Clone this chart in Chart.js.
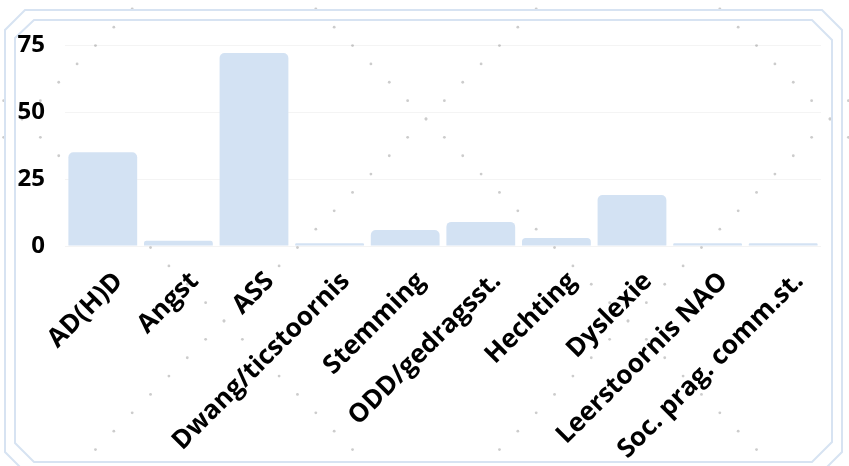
<!DOCTYPE html>
<html>
<head>
<meta charset="utf-8">
<script src="https://cdn.jsdelivr.net/npm/chart.js@4"></script>
<style>
  html, body { margin: 0; padding: 0; background: #ffffff; }
  #wrap { position: relative; width: 849px; height: 466px; overflow: hidden; }
  #bg, #frame { position: absolute; left: 0; top: 0; }
  #chart { position: absolute; left: 0; top: 0; }
</style>
</head>
<body>
<div id="wrap">
  <canvas id="bg" width="849" height="466"></canvas>
  <svg id="frame" width="849" height="466" xmlns="http://www.w3.org/2000/svg">
    <polygon points="25,10 822,10 842,30 842,452 820,474 27,474 5,452 5,30" fill="none" stroke="#d7e3f2" stroke-width="2"/>
    <polygon points="34,20 812,20 832,40 832,442 812,462 34,462 15,443 15,38" fill="none" stroke="#d7e3f2" stroke-width="2"/>
  </svg>
  <canvas id="chart" width="849" height="466"></canvas>
</div>
<script>
const categories = ["AD(H)D", "Angst", "ASS", "Dwang/ticstoornis", "Stemming", "ODD/gedragsst.", "Hechting", "Dyslexie", "Leerstoornis NAO", "Soc. prag. comm.st."];
const values = [35, 2, 72, 1, 6, 9, 3, 19, 1, 1];
const yTicks = [0, 25, 50, 75];

// decorative dotted diagonal background
(function () {
  const c = document.getElementById('bg').getContext('2d');
  c.fillStyle = '#cccccc';
  const step = 404 / 22;
  for (let n = -40; n < 40; n++) {
    const x = 426 + step * n;
    if (x < -5 || x > 855) continue;
    for (let k = -3; k <= 4; k++) {
      const ys = [545 + 404 * k - x, x - 307 + 404 * k];
      ys.forEach(y => {
        if (y > -5 && y < 471) { c.beginPath(); c.arc(x, y, 1.4, 0, Math.PI * 2); c.fill(); }
      });
    }
  }
})();

const FONT = "'Open Sans', 'Noto Sans', sans-serif";
new Chart(document.getElementById('chart'), {
  type: 'bar',
  data: {
    labels: categories,
    datasets: [{
      data: values,
      backgroundColor: '#d3e2f3',
      borderRadius: 5,
      borderSkipped: 'start',
      categoryPercentage: 1.0,
      barPercentage: 0.91
    }]
  },
  options: {
    responsive: false,
    animation: false,
    devicePixelRatio: 1,
    layout: { padding: { top: 45, right: 28, bottom: 0, left: 0 } },
    plugins: { legend: { display: false }, tooltip: { enabled: false } },
    scales: {
      x: {
        grid: { display: false },
        border: { display: false },
        ticks: {
          color: '#000',
          font: { family: FONT, size: 26, weight: 'bold' },
          minRotation: 45, maxRotation: 45, padding: 12, labelOffset: 16,
          autoSkip: false
        },
        afterFit: s => { s.height = 220; }
      },
      y: {
        min: 0, max: 75,
        afterBuildTicks: s => { s.ticks = yTicks.map(v => ({ value: v })); },
        grid: { color: 'rgba(0,0,0,0.045)', drawTicks: false },
        border: { display: false },
        ticks: {
          color: '#000',
          font: { family: FONT, size: 24, weight: 'bold' },
          padding: 20
        },
        afterFit: s => { s.width = 65; }
      }
    }
  }
});
</script>
</body>
</html>
